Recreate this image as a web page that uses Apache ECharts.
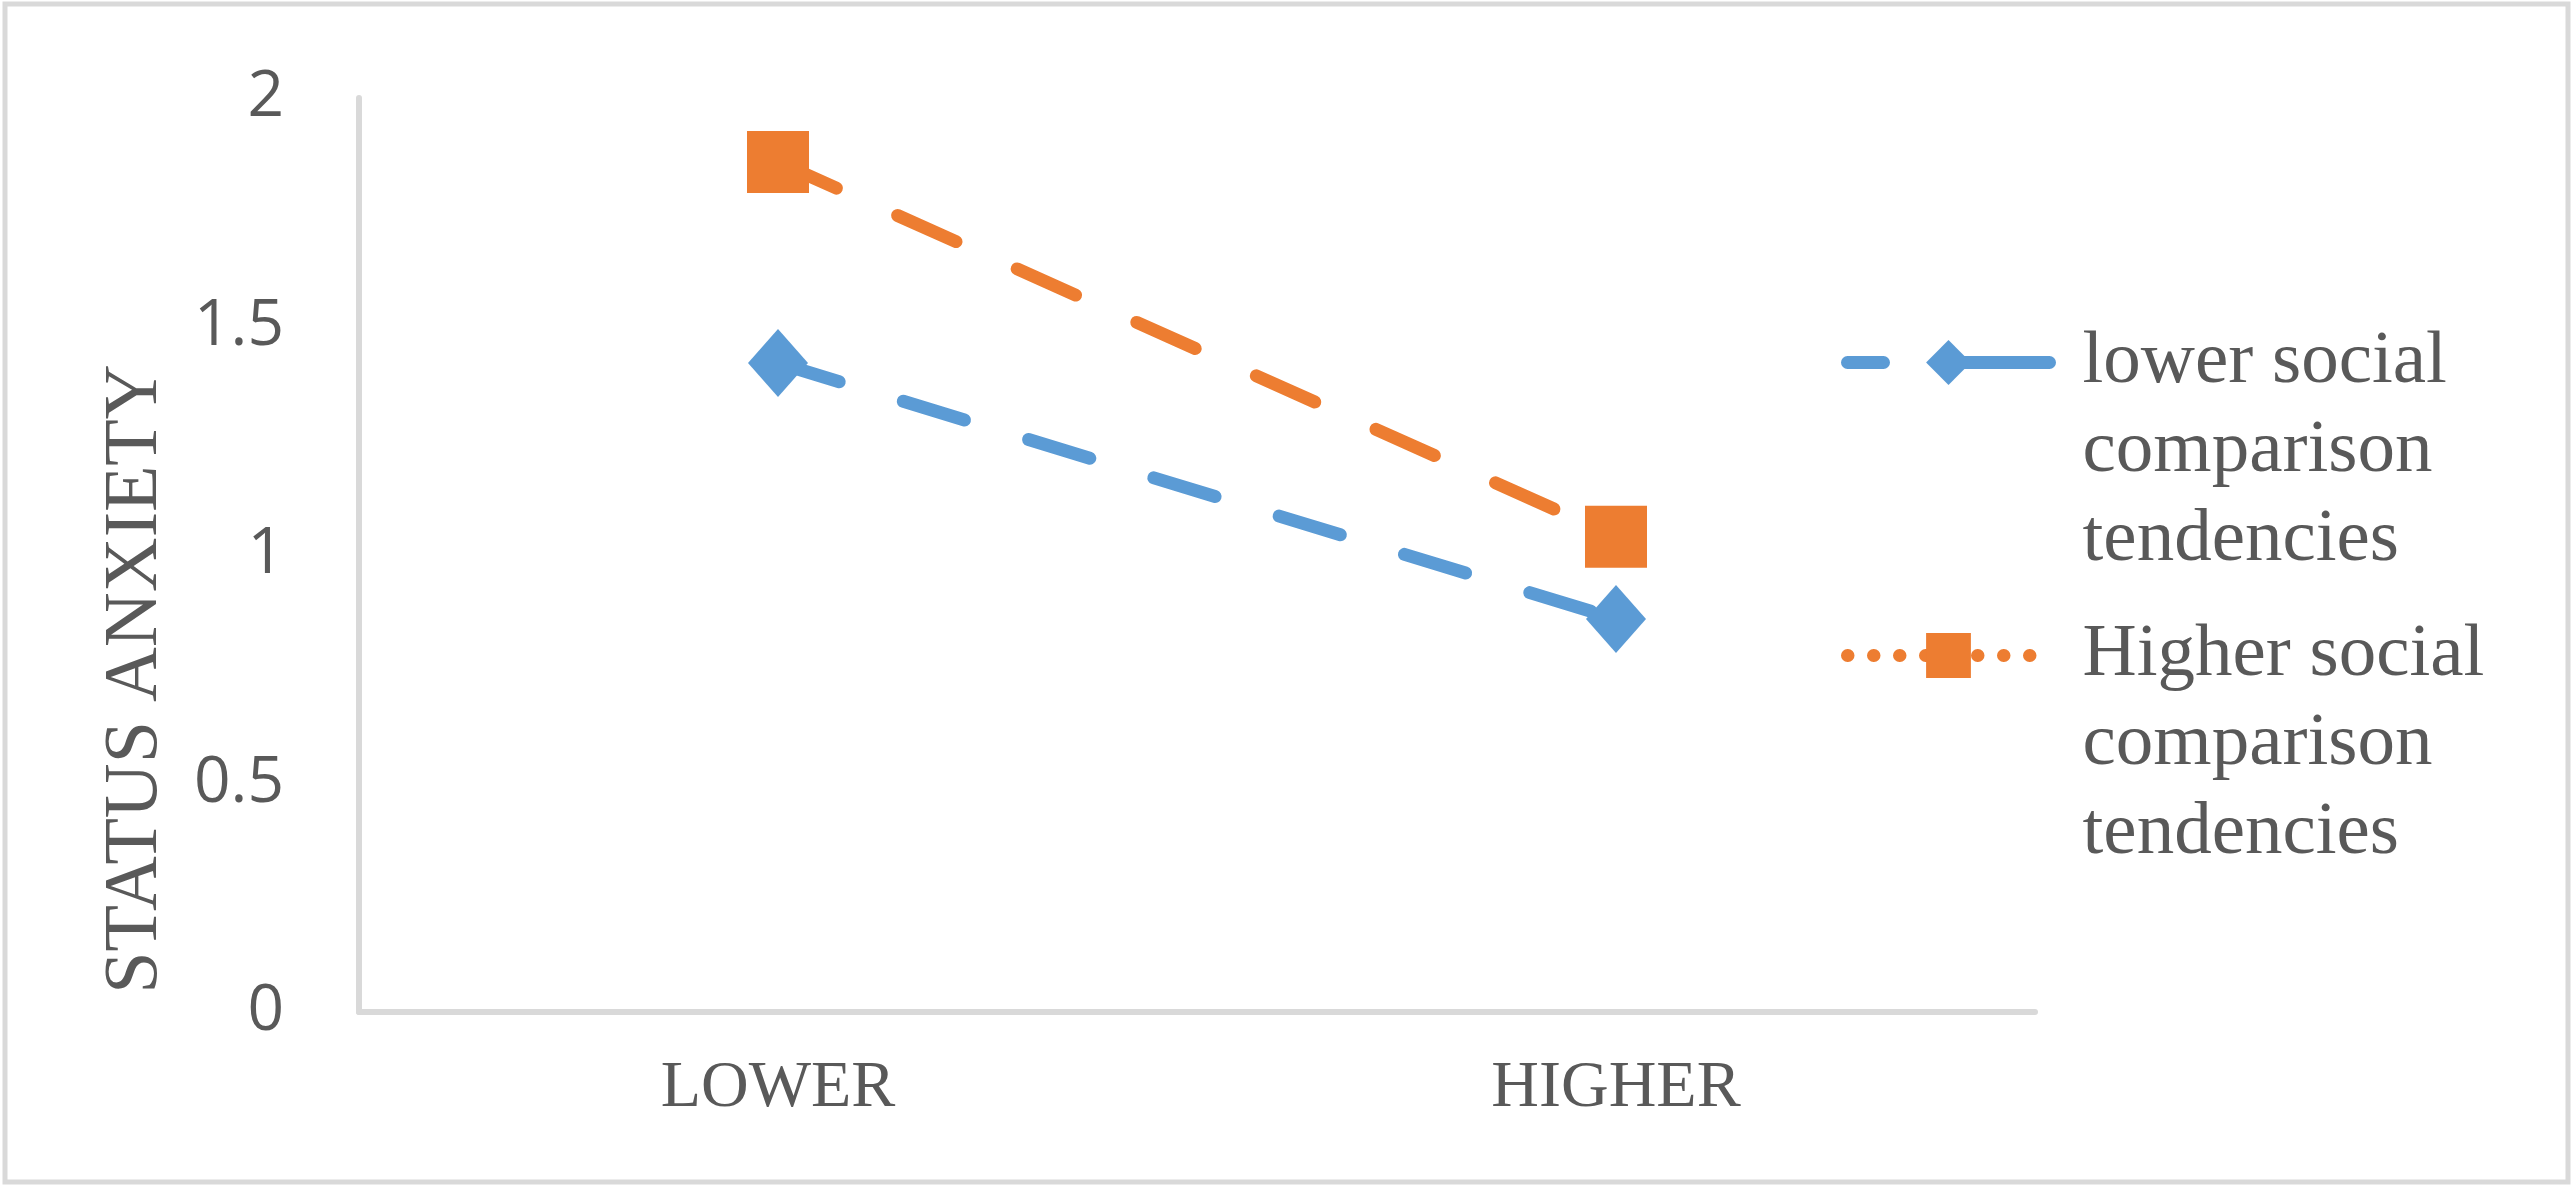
<!DOCTYPE html>
<html>
<head>
<meta charset="utf-8">
<style>
  html, body { margin: 0; padding: 0; background: #fff; }
  #statusChart { width: 2573px; height: 1188px; }
</style>
<script src="https://cdn.jsdelivr.net/npm/echarts@6/dist/echarts.min.js"></script>
</head>
<body>
<div id="statusChart"></div>
<script>
// categories on the x axis
var xLevels = ['LOWER', 'HIGHER'];
// series names
var seriesNames = ['lower social comparison tendencies', 'Higher social comparison tendencies'];
// values
var lowerValues = [1.42, 0.86];
var higherValues = [1.86, 1.04];
// y ticks
var yMin = 0, yMax = 2, yStep = 0.5;

var textGrey = '#595959';
var lineGrey = '#d9d9d9';
var blue = '#5b9bd5';
var orange = '#ed7d31';

var myChart = echarts.init(document.getElementById('statusChart'));

var option = {
  backgroundColor: '#fff',
  animation: false,
  grid: {
    left: 359,
    right: 538,
    top: 98,
    bottom: 176,
  },
  graphic: [
    {
      // outer frame
      type: 'rect',
      shape: { x: 5, y: 4, width: 2563, height: 1178 },
      style: { fill: 'none', stroke: lineGrey, lineWidth: 5 },
      silent: true,
    },
    {
      // y axis title
      type: 'text',
      x: 136,
      y: 679,
      rotation: Math.PI / 2,
      style: {
        text: 'STATUS ANXIETY',
        fontFamily: 'Liberation Serif',
        fontSize: 76,
        fill: textGrey,
        align: 'center',
        verticalAlign: 'middle',
      },
    },
  ],
  legend: {
    orient: 'vertical',
    left: 1841,
    top: 140,
    padding: 0,
    itemGap: -152,
    itemWidth: 202,
    itemHeight: 56,
    // two blank lines on top so the first text line sits beside the icon
    formatter: function (name) {
      return '\n\n' + name.replace(' comparison ', '\ncomparison\n');
    },
    textStyle: {
      fontFamily: 'Liberation Serif',
      fontSize: 75,
      lineHeight: 89,
      color: textGrey,
      padding: [0, 0, 0, 28],
    },
    data: [
      {
        name: seriesNames[0],
        lineStyle: { width: 13, type: [36, 60, 220, 10], cap: 'round' },
      },
      {
        name: seriesNames[1],
        lineStyle: { width: 13, type: [0.5, 25.5], cap: 'round' },
      },
    ],
  },
  xAxis: {
    type: 'category',
    data: xLevels,
    boundaryGap: true,
    axisLine: { show: true, lineStyle: { color: lineGrey, width: 6 } },
    axisTick: { show: false },
    splitLine: { show: false },
    axisLabel: {
      margin: 44,
      fontFamily: 'Liberation Serif',
      fontSize: 66,
      color: textGrey,
    },
  },
  yAxis: {
    type: 'value',
    min: yMin,
    max: yMax,
    interval: yStep,
    axisLine: { show: true, lineStyle: { color: lineGrey, width: 6 } },
    axisTick: { show: false },
    splitLine: { show: false },
    axisLabel: {
      margin: 75,
      fontFamily: 'Open Sans',
      fontSize: 64,
      color: textGrey,
    },
  },
  series: [
    {
      name: seriesNames[0],
      type: 'line',
      data: lowerValues,
      symbol: 'diamond',
      symbolSize: [60, 68],
      itemStyle: { color: blue },
      lineStyle: { color: blue, width: 13, type: [64, 67], cap: 'round' },
    },
    {
      name: seriesNames[1],
      type: 'line',
      data: higherValues,
      symbol: 'rect',
      symbolSize: 62,
      itemStyle: { color: orange },
      lineStyle: { color: orange, width: 13, type: [64, 67], cap: 'round' },
    },
  ],
};

myChart.setOption(option);
window.addEventListener('resize', () => {
  if (myChart) {
    myChart.resize();
  }
});
</script>
</body>
</html>
